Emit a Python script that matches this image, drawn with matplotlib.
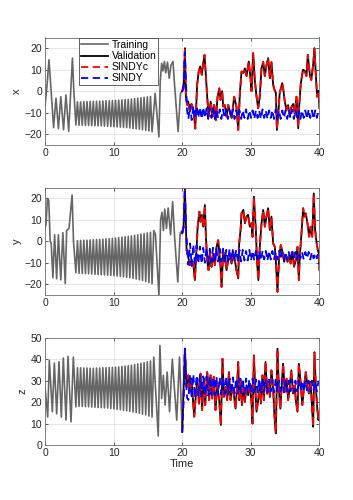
import matplotlib
matplotlib.use('Agg')
import matplotlib.pyplot as plt

plt.rcParams['font.family'] = ['Liberation Sans', 'DejaVu Sans']

# --- datos (tiempo, valor) ---

# tramo regular del entrenamiento (compartido por x, y, z)
t_spiral = [4.50, 4.73, 4.96, 5.19, 5.43, 5.66, 5.89, 6.12, 6.35, 6.58,
            6.81, 7.04, 7.28, 7.51, 7.74, 7.97, 8.20, 8.43, 8.66, 8.89,
            9.13, 9.36, 9.59, 9.82, 10.05, 10.28, 10.51, 10.74, 10.98, 11.21,
            11.44, 11.67, 11.90, 12.13, 12.36, 12.59, 12.83, 13.06, 13.29, 13.52,
            13.75, 13.98, 14.21, 14.44, 14.68, 14.91, 15.14, 15.37, 15.60]
x_spiral = [-15.8, -5.0, -15.9, -5.0, -15.9, -4.9, -16.0, -4.9, -16.0, -4.8,
            -16.1, -4.8, -16.1, -4.7, -16.2, -4.7, -16.2, -4.6, -16.3, -4.5,
            -16.4, -4.5, -16.5, -4.4, -16.6, -4.3, -16.7, -4.2, -16.8, -4.1,
            -16.9, -4.0, -17.0, -3.9, -17.2, -3.7, -17.4, -3.5, -17.6, -3.3,
            -17.8, -3.1, -18.0, -2.9, -18.3, -2.7, -18.6, -2.5, -19.0]
y_spiral = [-14.7, 0.3, -15.0, 0.4, -15.0, 0.5, -15.1, 0.5, -15.2, 0.6,
            -15.3, 0.7, -15.4, 0.8, -15.5, 0.9, -15.6, 1.0, -15.7, 1.1,
            -15.8, 1.2, -15.9, 1.3, -16.0, 1.5, -16.2, 1.7, -16.4, 1.9,
            -16.6, 2.1, -16.8, 2.3, -17.0, 2.5, -17.3, 2.8, -17.6, 3.0,
            -18.0, 3.3, -18.4, 3.6, -18.8, 3.9, -19.3, 4.2, -19.8]
z_spiral = [17.8, 36.0, 18.0, 36.0, 18.0, 35.9, 17.9, 35.9, 17.8, 35.8,
            17.7, 35.8, 17.6, 35.9, 17.5, 35.9, 17.4, 36.0, 17.3, 36.0,
            17.2, 36.1, 17.0, 36.2, 16.8, 36.3, 16.6, 36.4, 16.4, 36.6,
            16.2, 36.8, 16.0, 37.0, 15.7, 37.2, 15.4, 37.5, 15.1, 37.8,
            14.8, 38.1, 14.4, 38.4, 14.0, 38.8, 13.5, 39.2, 13.0]

# inicio y final del entrenamiento
t_x_start = [0.00, 0.30, 0.58, 0.85, 1.25, 1.60, 1.95, 2.30, 2.70, 3.05, 3.45, 3.75, 4.00, 4.20]
x_start = [-7.2, 3.0, 14.6, 2.0, -17.0, -3.3, -17.5, -2.6, -18.0, -1.8, -18.7, 0.0, 15.4, 0.0]
t_x_end = [16.05, 16.60, 16.80, 17.00, 17.20, 17.40, 17.60, 17.85, 18.10, 18.35, 18.65, 18.90, 19.40, 19.75, 20.00]
x_end = [-1.0, -21.3, 5.0, 13.0, 9.4, 13.8, 8.5, 13.5, 6.0, 12.0, 13.8, 2.0, -18.9, -1.0, 0.0]

t_y_start = [0.00, 0.15, 0.35, 0.55, 0.75, 0.90, 1.15, 1.40, 1.70, 1.95, 2.30, 2.60, 2.95, 3.15, 3.50, 3.95, 4.15]
y_start = [6.0, 8.0, 20.0, 19.0, 0.0, -1.0, -17.0, 3.0, -17.5, 3.0, -18.0, 4.0, -19.7, 5.0, 6.0, 21.6, 0.0]
t_y_end = [15.85, 16.10, 16.60, 16.85, 17.05, 17.25, 17.45, 17.70, 17.95, 18.30, 18.60, 18.90, 19.35, 19.70, 20.00]
y_end = [5.0, 3.0, -25.5, 10.0, 13.5, 5.0, 15.0, 6.0, 15.5, 3.0, 18.5, 1.4, -19.0, 3.8, 5.0]

t_z_start = [0.00, 0.39, 0.63, 1.07, 1.36, 1.70, 2.04, 2.38, 2.67, 3.06, 3.35, 3.79, 4.13]
z_start = [27.0, 13.1, 39.5, 15.5, 38.2, 14.5, 38.8, 13.0, 40.6, 11.6, 41.3, 10.8, 41.0]
t_z_end = [15.85, 16.50, 16.75, 17.00, 17.25, 17.50, 17.80, 18.15, 18.55, 19.20, 19.60, 20.00]
z_end = [41.0, 4.2, 46.4, 21.7, 32.5, 18.6, 34.0, 15.5, 40.0, 11.6, 41.0, 6.1]

# validacion
t_val_x = [20.00, 20.20, 20.39, 20.53, 20.73, 20.87, 21.10, 21.35, 21.65, 21.90,
           22.17, 22.40, 22.61, 22.85, 23.05, 23.25, 23.45, 23.65, 23.85, 24.15,
           24.42, 24.66, 24.90, 25.15, 25.40, 25.58, 25.82, 25.97, 26.20, 26.46,
           26.70, 27.20, 27.57, 27.90, 28.16, 28.40, 28.64, 28.90, 29.13, 29.37,
           29.70, 29.95, 30.10, 30.34, 30.58, 30.83, 31.07, 31.30, 31.55, 31.80,
           32.04, 32.28, 32.52, 32.77, 33.00, 33.25, 33.50, 33.64, 33.80, 34.07,
           34.20, 34.56, 34.70, 34.95, 35.20, 35.43, 35.70, 35.90, 36.17, 36.40,
           36.65, 36.90, 37.04, 37.28, 37.60, 37.85, 38.10, 38.30, 38.60, 38.80,
           39.08, 39.27, 39.47, 39.66, 39.85, 40.00]
val_x = [0.0, 1.5, 20.0, -2.6, -6.4, -4.9, -9.6, -6.0, -9.0, -17.5,
         2.9, 9.1, 11.5, 7.6, 13.0, 16.9, 6.8, -3.3, -11.9, -4.9,
         -11.9, -6.4, -13.5, -2.6, 1.3, -4.1, 0.0, -7.2, -6.5, -11.9,
         -6.5, -12.5, -2.6, -7.2, -18.1, -1.0, 9.1, 8.5, 10.6, 7.0,
         13.8, 6.0, 0.0, 17.7, 5.0, -2.6, -8.0, -2.6, 10.6, 13.6,
         7.0, 12.0, 15.4, 6.0, 13.5, 3.0, 0.0, -0.8, -18.1, -7.2,
         -1.0, 3.7, 1.5, -5.0, -8.8, -6.5, -11.9, -7.5, -6.0, -10.5,
         -2.6, -17.3, -7.2, 3.7, 10.0, 9.5, 7.0, 16.9, 7.5, 5.2,
         12.3, 20.0, 7.5, -2.6, 0.2, -8.0]

t_val_y = [20.00, 20.20, 20.39, 20.53, 20.63, 20.87, 21.10, 21.35, 21.60, 21.84,
           22.10, 22.25, 22.50, 22.67, 22.86, 23.06, 23.30, 23.45, 23.64, 23.83,
           24.03, 24.27, 24.50, 24.76, 25.00, 25.24, 25.39, 25.58, 25.73, 25.97,
           26.21, 26.46, 26.70, 26.94, 27.19, 27.43, 27.67, 27.90, 28.16, 28.30,
           28.50, 28.64, 28.90, 29.13, 29.37, 29.60, 29.85, 30.09, 30.24, 30.44,
           30.73, 30.90, 31.10, 31.30, 31.55, 31.80, 32.04, 32.28, 32.52, 32.77,
           33.00, 33.25, 33.49, 33.64, 33.88, 34.10, 34.36, 34.61, 34.85, 35.09,
           35.34, 35.58, 35.80, 36.06, 36.30, 36.55, 36.80, 36.99, 37.13, 37.38,
           37.62, 37.80, 38.00, 38.25, 38.50, 38.70, 38.94, 39.17, 39.37, 39.56,
           39.76, 39.90, 40.00]
val_y = [3.7, 6.8, 24.7, 8.4, -4.1, -7.2, -11.1, -8.8, -10.0, -18.1,
         -2.6, 6.8, 13.8, 9.1, 12.3, 6.8, 16.9, 2.1, -8.8, -13.5,
         -4.9, -11.9, -6.4, -11.1, -2.6, 0.5, -4.9, -11.9, -21.3, -4.9,
         -6.4, -13.5, -8.8, -7.2, -10.4, -4.9, -8.8, -13.5, -17.3, -1.0,
         5.2, 13.0, 14.6, 8.4, 11.5, 12.3, 6.8, 8.4, 2.1, 20.8,
         5.2, -9.6, -18.1, -2.6, 8.2, 14.6, 6.8, 11.5, 15.4, 5.2,
         11.5, -1.0, -2.6, -8.8, -23.6, -8.8, -1.8, -4.9, -9.6, -6.4,
         -9.6, -6.4, -10.4, -4.9, -11.9, -8.8, -2.6, -18.1, -7.2, 3.7,
         15.4, 11.5, 13.0, 8.4, 2.1, 6.8, 2.1, 22.3, 5.2, -0.2,
         -4.1, -5.6, -13.5]

t_val_z = [20.00, 20.39, 20.63, 20.87, 21.10, 21.35, 21.60, 21.75, 22.00, 22.20,
           22.44, 22.67, 22.90, 23.16, 23.35, 23.64, 23.93, 24.13, 24.37, 24.60,
           24.85, 25.10, 25.39, 25.63, 25.87, 26.07, 26.30, 26.55, 26.80, 27.04,
           27.28, 27.53, 27.77, 28.00, 28.16, 28.30, 28.50, 28.70, 28.90, 29.13,
           29.37, 29.61, 29.85, 30.09, 30.24, 30.44, 30.63, 30.83, 31.07, 31.30,
           31.46, 31.70, 31.90, 32.14, 32.38, 32.57, 32.77, 33.00, 33.25, 33.45,
           33.64, 33.88, 34.07, 34.30, 34.56, 34.70, 34.95, 35.20, 35.43, 35.67,
           35.90, 36.15, 36.40, 36.55, 36.80, 36.99, 37.23, 37.50, 37.75, 38.00,
           38.25, 38.45, 38.70, 38.90, 39.08, 39.27, 39.46, 39.66, 39.85, 40.00]
val_z = [6.1, 44.9, 27.0, 32.5, 24.8, 31.0, 19.3, 13.2, 24.0, 30.9,
         19.3, 33.3, 16.3, 31.0, 18.6, 34.0, 20.9, 32.5, 21.7, 31.8,
         16.3, 27.8, 20.9, 9.3, 40.2, 22.4, 27.0, 20.9, 34.0, 20.9,
         27.8, 23.2, 17.0, 27.8, 38.7, 20.9, 30.9, 18.6, 26.3, 20.1,
         27.8, 23.2, 28.6, 20.1, 10.0, 41.8, 27.0, 15.5, 20.9, 28.6,
         19.3, 32.5, 20.9, 38.7, 23.9, 30.1, 22.4, 34.8, 26.3, 13.2,
         5.4, 44.9, 27.0, 17.0, 30.9, 37.9, 24.8, 30.9, 20.9, 27.0,
         34.8, 24.0, 27.8, 20.9, 15.5, 37.9, 30.1, 18.6, 27.0, 34.0,
         27.8, 24.0, 29.4, 18.6, 8.5, 43.2, 27.8, 17.8, 11.6, 14.0]

# SINDYc: se superpone a la validacion
sindyc_x = list(val_x)
sindyc_y = list(val_y)
sindyc_z = list(val_z)

# SINDY (sin control)
t_sindy = [20.00, 20.20, 20.38, 20.55, 20.70,
           20.90, 21.14, 21.38, 21.62, 21.86, 22.10, 22.34, 22.58, 22.82, 23.06,
           23.30, 23.54, 23.78, 24.02, 24.26, 24.50, 24.74, 24.98, 25.22, 25.46,
           25.70, 25.94, 26.18, 26.42, 26.66, 26.90, 27.14, 27.38, 27.62, 27.86,
           28.10, 28.34, 28.58, 28.82, 29.06, 29.30, 29.54, 29.78, 30.02, 30.26,
           30.50, 30.74, 30.98, 31.22, 31.46, 31.70, 31.94, 32.18, 32.42, 32.66,
           32.90, 33.14, 33.38, 33.62, 33.86, 34.10, 34.34, 34.58, 34.82, 35.06,
           35.30, 35.54, 35.78, 36.02, 36.26, 36.50, 36.74, 36.98, 37.22, 37.46,
           37.70, 37.94, 38.18, 38.42, 38.66, 38.90, 39.14, 39.38, 39.62, 39.86]
sindy_x = [0.0, 3.0, 18.0, 4.0, -9.0,
           -13.0, -6.5, -13.5, -7.0, -13.0, -7.0, -12.5, -7.5, -13.0, -7.5,
           -12.5, -8.0, -13.0, -8.0, -12.5, -8.0, -13.0, -8.5, -12.5, -8.5,
           -13.0, -8.5, -12.5, -8.5, -13.0, -9.0, -12.5, -8.5, -13.0, -9.0,
           -12.5, -9.0, -13.0, -9.0, -12.5, -8.5, -13.0, -9.0, -12.5, -9.0,
           -13.0, -9.0, -12.5, -9.0, -13.0, -8.5, -12.5, -9.0, -13.0, -9.0,
           -12.5, -9.0, -13.0, -8.5, -12.5, -9.0, -13.0, -9.0, -12.5, -9.0,
           -13.0, -9.0, -12.5, -8.5, -13.0, -9.0, -12.5, -9.0, -13.0, -9.0,
           -12.5, -9.0, -13.0, -8.5, -12.5, -9.0, -13.0, -9.0, -12.5, -9.0]
sindy_y = [3.7, 6.8, 24.5, 5.0, -2.0,
           -11.0, -1.0, -11.5, -1.5, -11.0, -2.0, -10.5, -2.5, -10.5, -3.0,
           -10.0, -3.0, -10.0, -3.5, -9.5, -3.0, -10.0, -3.5, -9.5, -3.5,
           -9.5, -3.5, -9.5, -4.0, -9.5, -3.5, -9.0, -4.0, -9.5, -4.0,
           -9.0, -4.0, -9.5, -4.0, -9.0, -4.5, -9.0, -4.0, -9.0, -4.5,
           -9.0, -4.5, -8.5, -4.5, -9.0, -4.5, -8.5, -4.5, -9.0, -4.5,
           -8.5, -4.5, -8.5, -5.0, -8.5, -4.5, -8.5, -5.0, -8.5, -5.0,
           -8.5, -5.0, -8.5, -5.0, -8.0, -5.0, -8.5, -5.0, -8.0, -5.0,
           -8.5, -5.0, -8.0, -5.0, -8.5, -5.0, -8.0, -5.5, -8.0, -5.0]
sindy_z = [6.1, 20.0, 44.9, 30.0, 22.0,
           21.0, 33.0, 21.5, 33.0, 22.0, 32.5, 22.5, 32.5, 22.5, 32.0,
           23.0, 32.0, 23.0, 32.0, 23.5, 31.5, 23.0, 32.0, 23.5, 31.5,
           23.5, 31.5, 24.0, 31.5, 23.5, 31.0, 24.0, 31.5, 24.0, 31.0,
           24.0, 31.0, 24.5, 31.0, 24.0, 31.0, 24.5, 30.5, 24.0, 31.0,
           24.5, 30.5, 24.5, 31.0, 24.5, 30.5, 25.0, 30.5, 24.5, 30.5,
           25.0, 30.5, 24.5, 30.5, 25.0, 30.0, 25.0, 30.5, 24.5, 30.0,
           25.0, 30.0, 25.0, 30.5, 25.0, 30.0, 25.0, 30.0, 25.5, 30.0,
           25.0, 30.0, 25.5, 30.0, 25.0, 30.0, 25.5, 29.5, 25.0, 30.0]

# series completas de entrenamiento
t_train_x = t_x_start + t_spiral + t_x_end
train_x = x_start + x_spiral + x_end
t_train_y = t_y_start + t_spiral + t_y_end
train_y = y_start + y_spiral + y_end
t_train_z = t_z_start + t_spiral + t_z_end
train_z = z_start + z_spiral + z_end

paneles = [
    ('x', t_train_x, train_x, t_val_x, val_x, sindyc_x, sindy_x, (-25, 25), [-20, -10, 0, 10, 20]),
    ('y', t_train_y, train_y, t_val_y, val_y, sindyc_y, sindy_y, (-25, 25), [-20, -10, 0, 10, 20]),
    ('z', t_train_z, train_z, t_val_z, val_z, sindyc_z, sindy_z, (0, 50), [0, 10, 20, 30, 40, 50]),
]

fig, axes = plt.subplots(3, 1, figsize=(3.53, 5.0), dpi=100)
fig.subplots_adjust(left=0.1275, right=0.905, top=0.925, bottom=0.11, hspace=0.40)

for ax, (nombre, tt, tr, tv, vv, vc, vs, ylim, yticks) in zip(axes, paneles):
    ax.plot(tt, tr, color='#666666', lw=1.2, label='Training')
    ax.plot(tv, vv, color='black', lw=1.3, label='Validation')
    ax.plot(tv, vc, color='#ff0000', lw=1.3, ls='--', dashes=(4, 2.5), label='SINDYc')
    ax.plot(t_sindy, vs, color='#0000ff', lw=1.3, ls='--', dashes=(4, 2.5), label='SINDY')

    ax.set_xlim(0, 40)
    ax.set_ylim(*ylim)
    ax.set_xticks([0, 10, 20, 30, 40])
    ax.set_yticks(yticks)
    ax.set_ylabel(nombre, fontsize=8, color='#262626', labelpad=2)
    ax.grid(True, color='#e3e3e3', lw=0.6)
    ax.set_axisbelow(True)
    ax.tick_params(direction='in', length=2.5, width=0.5, labelsize=7.5,
                   colors='#262626', top=True, right=True, pad=2)
    for s in ax.spines.values():
        s.set_color('#6e6e6e')
        s.set_linewidth(0.6)

axes[2].set_xlabel('Time', fontsize=8, color='#262626', labelpad=1)

leg = axes[0].legend(loc='upper left', bbox_to_anchor=(0.125, 0.995), fontsize=7.5,
                     fancybox=False, framealpha=1, edgecolor='#262626',
                     handlelength=2.6, handletextpad=0.3, labelspacing=0.1,
                     borderpad=0.2, borderaxespad=0)
leg.get_frame().set_linewidth(0.5)

fig.savefig('out.png', dpi=100)
